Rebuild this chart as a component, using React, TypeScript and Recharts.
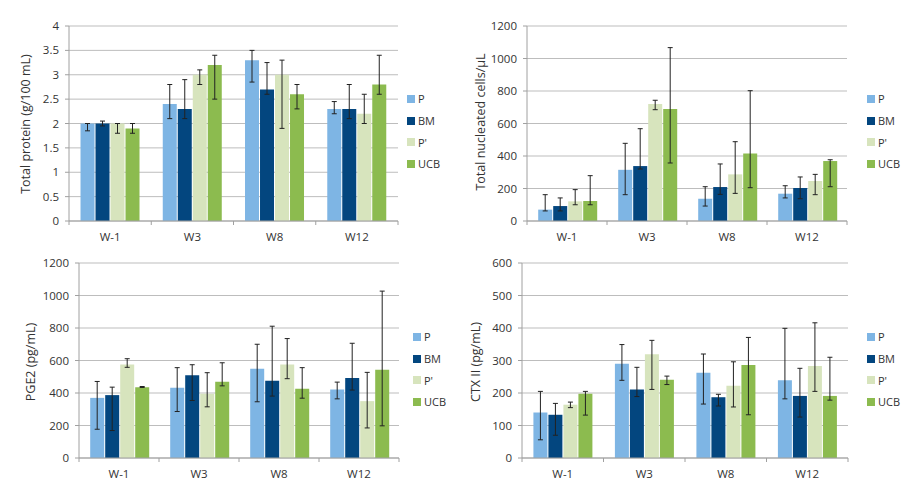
import React from 'react';
import { BarChart, Bar, XAxis, YAxis, CartesianGrid, ErrorBar, Legend } from 'recharts';

const categories = ['W-1', 'W3', 'W8', 'W12'];
const seriesNames = ['P', 'BM', "P'", 'UCB'];
const seriesColors = ['#7EB5E4', '#03467F', '#D7E4BD', '#8CBB4F'];

// Total protein (g/100 mL)
const proteinP = [2.0, 2.4, 3.3, 2.3];
const proteinBM = [2.0, 2.3, 2.7, 2.3];
const proteinPp = [2.0, 3.0, 3.0, 2.2];
const proteinUCB = [1.9, 3.2, 2.6, 2.8];
const proteinPErr = [[1.85, 2.0], [2.1, 2.8], [2.85, 3.5], [2.2, 2.45]];
const proteinBMErr = [[1.95, 2.05], [2.1, 2.9], [2.6, 3.25], [2.1, 2.8]];
const proteinPpErr = [[1.8, 2.0], [2.8, 3.1], [1.9, 3.3], [2.0, 2.6]];
const proteinUCBErr = [[1.8, 2.0], [2.5, 3.4], [2.3, 2.8], [2.6, 3.4]];
const proteinTicks = [0, 0.5, 1, 1.5, 2, 2.5, 3, 3.5, 4];

// Total nucleated cells/µL
const cellsP = [70, 315, 137, 168];
const cellsBM = [92, 338, 209, 203];
const cellsPp = [121, 720, 287, 246];
const cellsUCB = [123, 689, 416, 369];
const cellsPErr = [[62, 162], [162, 478], [92, 211], [142, 217]];
const cellsBMErr = [[62, 142], [320, 568], [164, 351], [137, 271]];
const cellsPpErr = [[100, 193], [685, 743], [170, 488], [162, 287]];
const cellsUCBErr = [[100, 279], [357, 1067], [205, 802], [211, 377]];
const cellsTicks = [0, 200, 400, 600, 800, 1000, 1200];

// PGE2 (pg/mL)
const pgeP = [370, 432, 549, 422];
const pgeBM = [387, 510, 475, 492];
const pgePp = [576, 395, 576, 350];
const pgeUCB = [436, 469, 426, 543];
const pgePErr = [[177, 471], [286, 556], [346, 700], [364, 467]];
const pgeBMErr = [[169, 436], [354, 574], [381, 811], [418, 706]];
const pgePpErr = [[558, 611], [315, 525], [488, 735], [185, 527]];
const pgeUCBErr = [[434, 440], [444, 586], [368, 556], [198, 1027]];
const pgeTicks = [0, 200, 400, 600, 800, 1000, 1200];

// CTX II (pg/mL)
const ctxP = [140, 290, 262, 239];
const ctxBM = [133, 211, 187, 191];
const ctxPp = [164, 319, 222, 283];
const ctxUCB = [198, 241, 286, 191];
const ctxPErr = [[56, 205], [239, 349], [166, 320], [182, 399]];
const ctxBMErr = [[70, 168], [189, 279], [160, 196], [126, 276]];
const ctxPpErr = [[155, 172], [211, 362], [157, 296], [205, 416]];
const ctxUCBErr = [[132, 205], [226, 252], [133, 371], [178, 310]];
const ctxTicks = [0, 100, 200, 300, 400, 500, 600];

const FONT = '"Open Sans", sans-serif';
const TEXT = '#333333';
const GRID = '#bdbdbd';
const AXIS = '#a0a0a0';

function buildRows(means: number[][], errs: number[][][]) {
  return categories.map((c, i) => {
    const row: any = { cat: c };
    means.forEach((m, s) => {
      row['s' + s] = m[i];
      row['e' + s] = [m[i] - errs[s][i][0], errs[s][i][1] - m[i]];
    });
    return row;
  });
}

const BOX_W = 454;
const BOX_H = 244;

type PanelProps = {
  left: number; top: number;
  plotL: number; plotR: number; plotT: number; plotB: number;
  title: string; titleX: number; titleY: number;
  legendX: number; legendY: number;
  means: number[][]; errs: number[][][]; ticks: number[];
};

function LegendContent() {
  return (
    <div style={{ fontFamily: FONT, fontSize: 11, color: TEXT }}>
      {seriesNames.map((n, i) => (
        <div key={n} style={{ display: 'flex', alignItems: 'center', height: 21.7 }}>
          <span style={{ display: 'inline-block', width: 8, height: 8, background: seriesColors[i], marginRight: 3 }} />
          <span>{n}</span>
        </div>
      ))}
    </div>
  );
}

function Panel(p: PanelProps) {
  const rows = buildRows(p.means, p.errs);
  const band = (p.plotR - p.plotL) / categories.length;
  const xTick = (tp: any) => {
    const { x, y, payload, index } = tp;
    return (
      <g>
        <line x1={x - band / 2} x2={x - band / 2} y1={y} y2={y + 4} stroke={AXIS} />
        {index === categories.length - 1 && (
          <line x1={x + band / 2} x2={x + band / 2} y1={y} y2={y + 4} stroke={AXIS} />
        )}
        <text x={x} y={y + 16} dy="0.35em" textAnchor="middle" fontFamily={FONT} fontSize={11.5} fill={TEXT}>
          {payload.value}
        </text>
      </g>
    );
  };
  const yTitle = (
    <text
      x={p.titleX}
      y={p.titleY}
      transform={`rotate(-90 ${p.titleX} ${p.titleY})`}
      textAnchor="middle"
      dominantBaseline="middle"
      fontFamily={FONT}
      fontSize={12.5}
      fill={TEXT}
    >
      {p.title}
    </text>
  );
  return (
    <div style={{ position: 'absolute', left: p.left, top: p.top, width: BOX_W, height: BOX_H }}>
      <BarChart
        width={BOX_W}
        height={BOX_H}
        data={rows}
        margin={{ top: p.plotT, right: BOX_W - p.plotR, left: 0, bottom: 0 }}
        barCategoryGap="14%"
        barGap={1}
      >
        <CartesianGrid vertical={false} stroke={GRID} />
        <XAxis
          dataKey="cat"
          height={BOX_H - p.plotB}
          stroke={AXIS}
          tickLine={false}
          tickSize={0}
          tickMargin={0}
          tick={xTick}
          interval={0}
        />
        <YAxis
          width={p.plotL}
          domain={[p.ticks[0], p.ticks[p.ticks.length - 1]]}
          ticks={p.ticks}
          interval={0}
          stroke={AXIS}
          tickSize={4}
          tickMargin={6}
          tick={{ fontFamily: FONT, fontSize: 11.5, fill: TEXT }}
          label={() => yTitle}
        />
        <Legend
          layout="vertical"
          align="center"
          verticalAlign="middle"
          wrapperStyle={{ left: p.legendX, top: p.legendY, width: 'auto' }}
          content={() => <LegendContent />}
        />
        {seriesNames.map((n, i) => (
          <Bar key={n} dataKey={'s' + i} name={n} fill={seriesColors[i]} isAnimationActive={false}>
            <ErrorBar dataKey={'e' + i} direction="y" width={2.5} stroke="#222" strokeWidth={1} />
          </Bar>
        ))}
      </BarChart>
    </div>
  );
}

export default function App() {
  return (
    <div style={{ position: 'absolute', left: 0, top: 0, width: 908, height: 488, background: '#fff', fontFamily: FONT }}>
      <Panel
        left={0} top={0}
        plotL={69} plotR={398} plotT={26} plotB={221}
        title="Total protein (g/100 mL)" titleX={27} titleY={124}
        legendX={407} legendY={88}
        means={[proteinP, proteinBM, proteinPp, proteinUCB]}
        errs={[proteinPErr, proteinBMErr, proteinPpErr, proteinUCBErr]}
        ticks={proteinTicks}
      />
      <Panel
        left={454} top={0}
        plotL={73} plotR={393} plotT={26} plotB={221}
        title="Total nucleated cells/µL" titleX={28} titleY={122}
        legendX={413} legendY={88}
        means={[cellsP, cellsBM, cellsPp, cellsUCB]}
        errs={[cellsPErr, cellsBMErr, cellsPpErr, cellsUCBErr]}
        ticks={cellsTicks}
      />
      <Panel
        left={0} top={244}
        plotL={79} plotR={399} plotT={19} plotB={214}
        title="PGE2 (pg/mL)" titleX={32} titleY={118}
        legendX={413} legendY={82}
        means={[pgeP, pgeBM, pgePp, pgeUCB]}
        errs={[pgePErr, pgeBMErr, pgePpErr, pgeUCBErr]}
        ticks={pgeTicks}
      />
      <Panel
        left={454} top={244}
        plotL={68} plotR={394} plotT={19} plotB={214}
        title="CTX II (pg/mL)" titleX={23} titleY={118}
        legendX={413} legendY={82}
        means={[ctxP, ctxBM, ctxPp, ctxUCB]}
        errs={[ctxPErr, ctxBMErr, ctxPpErr, ctxUCBErr]}
        ticks={ctxTicks}
      />
    </div>
  );
}
